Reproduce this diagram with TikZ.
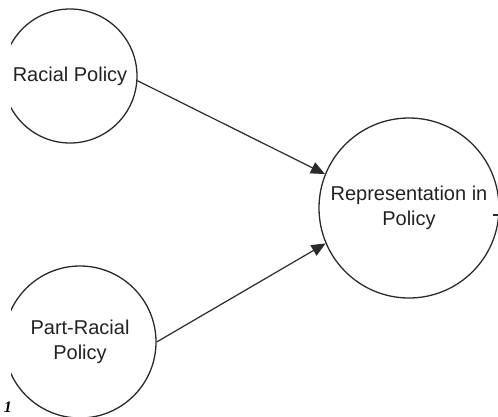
\documentclass[tikz,border=0pt]{standalone}
\usepackage{fontspec}
\setmainfont{Liberation Sans}
\newfontfamily\serifone{Liberation Serif}
\usetikzlibrary{arrows.meta}
\definecolor{linec}{HTML}{2A2A2A}
\definecolor{textc}{HTML}{222222}
\tikzset{
  bubble/.style={circle, draw=linec, line width=1.3pt, inner sep=0pt, align=center,
    font=\fontsize{20}{25}\selectfont, text=textc},
  link/.style={draw=linec, line width=1.2pt, -{Triangle[length=14pt,width=12pt]}},
}
\begin{document}
\begin{tikzpicture}[x=1pt,y=-1pt]
\useasboundingbox (0,0) rectangle (498,416);
\begin{scope}
\clip (11,0) rectangle (498,416);
\node[bubble, minimum size=134pt] (tl) at (70,76) {Racial Policy};
\node[bubble, minimum size=152pt] (bl) at (80,342) {Part-Racial\\Policy};
\node[bubble, minimum size=180pt] (rc) at (409,208) {Representation in\\Policy};
\draw[link] (tl.-4) -- (rc.158);
\draw[link] (bl.east) -- (rc.203);
\coordinate (tickA) at (493,215);
\coordinate (tickB) at (498,215);
\draw[draw=linec, line width=1.2pt] (tickA) -- (tickB);
\end{scope}
\node[font=\serifone\bfseries\itshape\fontsize{16}{16}\selectfont, inner sep=0pt, anchor=base] (one) at (8,412) {1};
\end{tikzpicture}
\end{document}
